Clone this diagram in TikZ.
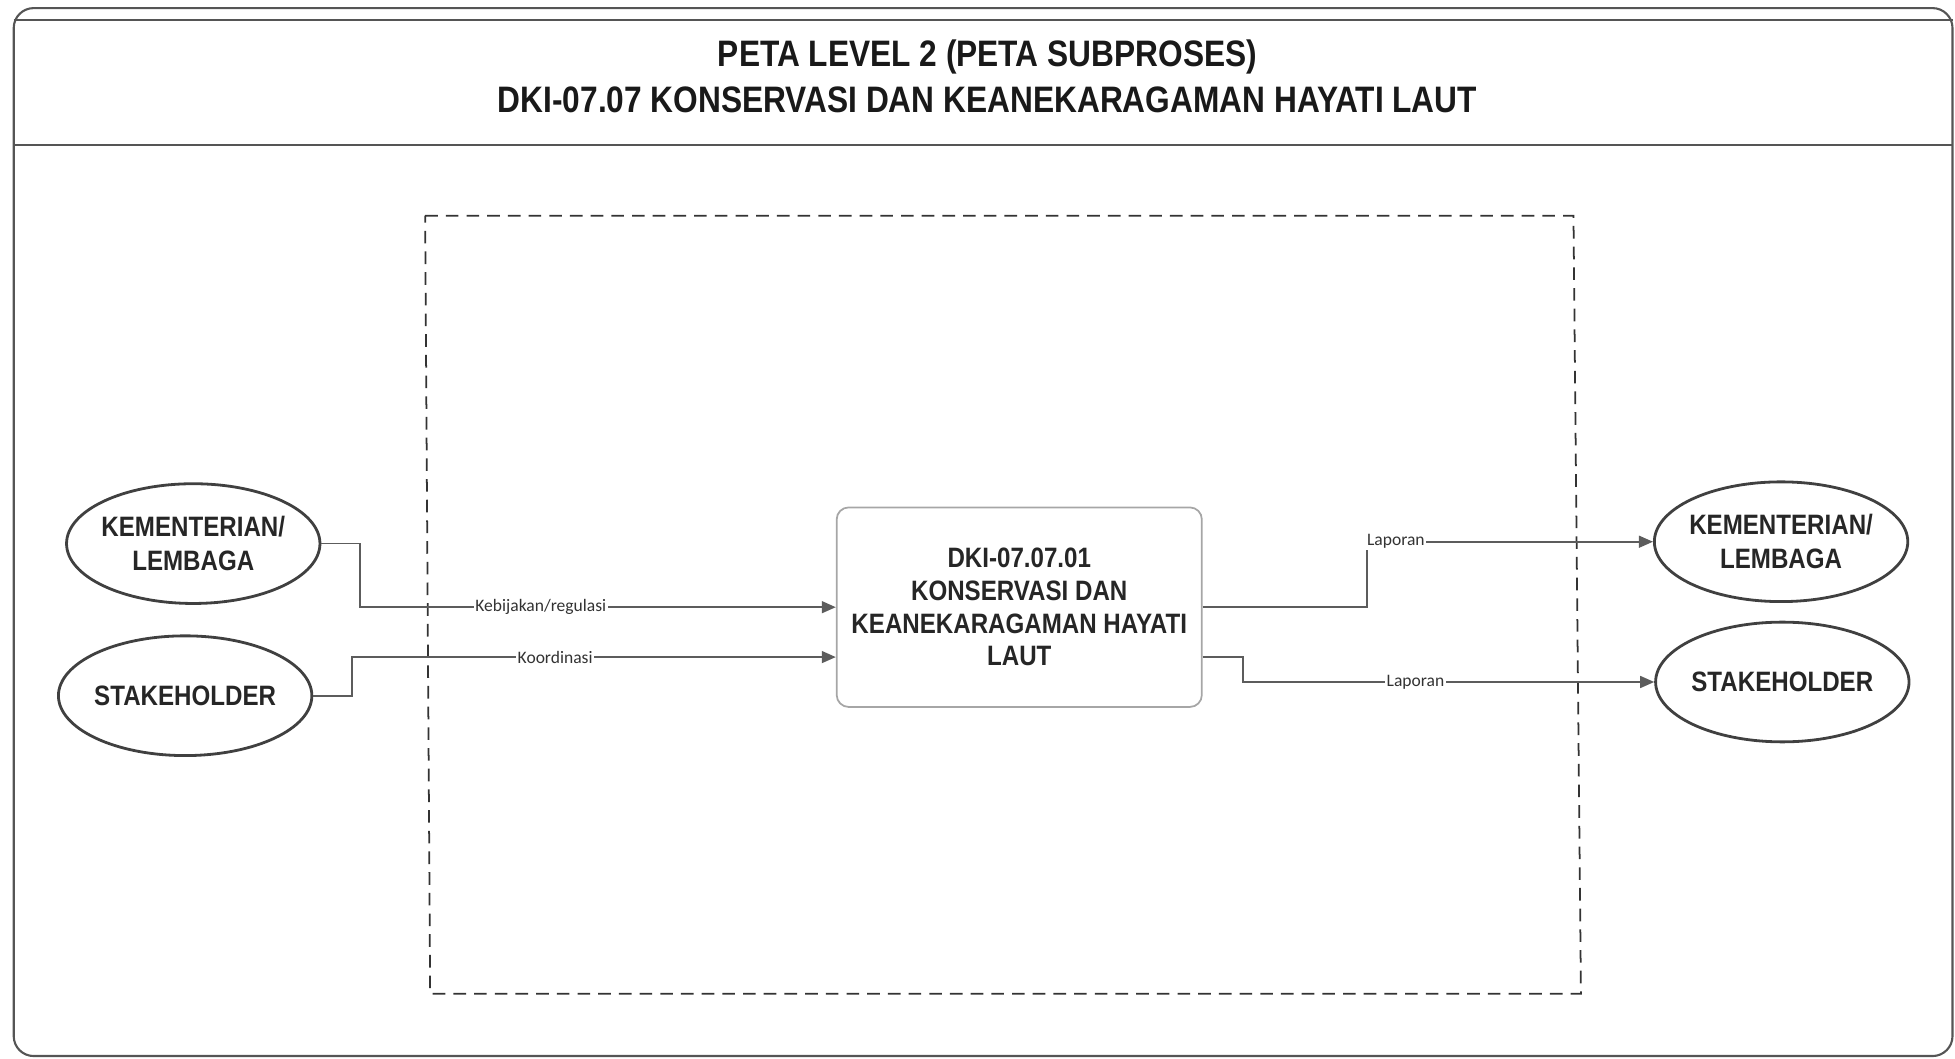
\documentclass[tikz,border=0pt]{standalone}
\usepackage{fontspec}
\setmainfont{Liberation Sans}
\newfontfamily\narrowfont{Liberation Sans}[FakeStretch=0.86]
\newfontfamily\ketfont{Carlito}
\usetikzlibrary{arrows.meta,shapes.geometric}
\definecolor{garis}{HTML}{5C5C5C}
\definecolor{bingkai}{HTML}{555555}

\begin{document}
\begin{tikzpicture}[x=0.0125cm,y=-0.0125cm,>={Triangle[length=4pt,width=3.4pt]},
	unit/.style={ellipse,draw=black!75,line width=0.8pt,minimum width=2.54cm,minimum height=1.2cm,inner sep=0pt},
	unittxt/.style={font=\narrowfont\bfseries\fontsize{8}{9.6}\selectfont,align=center,text=black!85},
	proses/.style={draw=black!35,line width=0.5pt,rounded corners=1.2mm,minimum width=3.66cm,minimum height=2cm,align=center,
		font=\narrowfont\bfseries\fontsize{8}{9.3}\selectfont,text=black!85},
	alur/.style={draw=garis,line width=0.5pt,->},
	ket/.style={font=\ketfont\fontsize{5}{6}\selectfont,fill=white,inner sep=0.4pt,text=black!80},
	judul/.style={font=\narrowfont\bfseries\fontsize{10.5}{12}\selectfont,text=black!90}]
	\useasboundingbox (0,0) rectangle (1568,849);
	% bingkai
	\draw[bingkai,line width=0.6pt,rounded corners=2mm] (11,847) -- (11,6.5) -- (1566,6.5) -- (1566,847) -- cycle;
	\draw[bingkai,line width=0.6pt] (11,16) -- (1566,16);
	\draw[bingkai,line width=0.6pt] (11,116) -- (1566,116);
	\node[judul] (judul1) at (792,46) {PETA LEVEL 2 (PETA SUBPROSES)};
	\node[judul] (judul2) at (792,80) {DKI-07.07 KONSERVASI DAN KEANEKARAGAMAN HAYATI LAUT};
	% batas proses
	\draw[black!80,line width=0.5pt,dash pattern=on 3.6pt off 2.3pt] (341,173) -- (1262,173) -- (1268,797) -- (345,797) -- cycle;
	% unit kiri
	\node[unit,label={[unittxt,name=klLtxt]center:KEMENTERIAN/\\LEMBAGA}] (klL) at (155,436) {};
	\node[unit,label={[unittxt,name=stLtxt]center:STAKEHOLDER}] (stL) at (148.5,558) {};
	% subproses
	\node[proses] (proc) at (817.5,487) {DKI-07.07.01\\KONSERVASI DAN\\KEANEKARAGAMAN HAYATI\\LAUT};
	% unit kanan
	\node[unit,label={[unittxt,name=klRtxt]center:KEMENTERIAN/\\LEMBAGA}] (klR) at (1428.5,434.5) {};
	\node[unit,label={[unittxt,name=stRtxt]center:STAKEHOLDER}] (stR) at (1429.5,547) {};
	% alur masuk
	\draw[alur] (klL.east) -- ++(31,0) |- node[ket,pos=0.69] (k1) {Kebijakan/regulasi} (proc.west);
	\draw[alur] (stL.east) -- ++(31,0) |- node[ket,pos=0.71] (k2) {Koordinasi} ([yshift=-0.5cm]proc.west);
	% alur keluar
	\draw[alur] (proc.east) -- ++(132,0) |- node[ket,pos=0.55] (k3) {Laporan} (klR.west);
	\draw[alur] ([yshift=-0.5cm]proc.east) -- ++(32,0) |- node[ket,pos=0.71] (k4) {Laporan} (stR.west);
\end{tikzpicture}
\end{document}
